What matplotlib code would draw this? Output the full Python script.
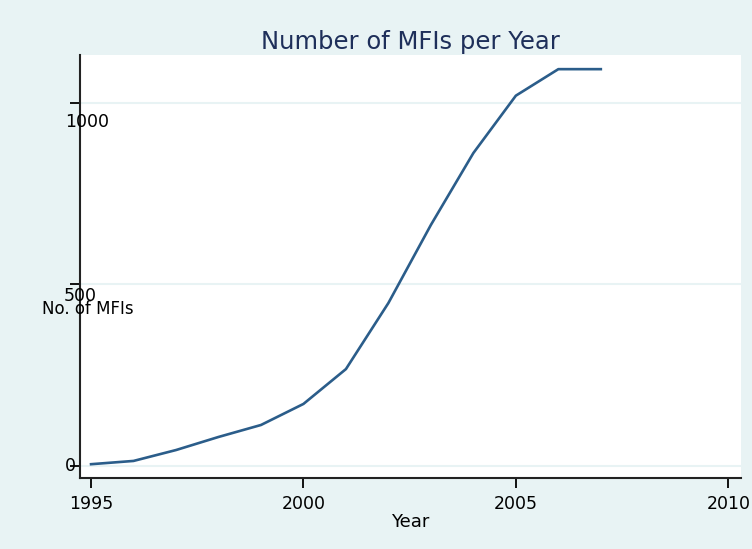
import numpy as np
import matplotlib.pyplot as plt
from matplotlib import transforms

years = [1995, 1996, 1997, 1998, 1999, 2000, 2001, 2002, 2003, 2004, 2005, 2006, 2007]
mfis = [5, 14, 44, 80, 113, 171, 267, 449, 664, 862, 1020, 1093, 1093]
yticks = [0, 500, 1000]
xticks = [1995, 2000, 2005, 2010]

bg = '#e8f3f4'
line_col = '#2b5d8a'

fig = plt.figure(figsize=(7.52, 5.49), dpi=100, facecolor=bg)
ax = fig.add_axes([80 / 752, 1 - 478 / 549, (741 - 80) / 752, (478 - 55) / 549])
ax.set_facecolor('white')

ax.plot(years, mfis, color=line_col, lw=1.9)

ax.set_xlim(1994.74, 2010.3)
ax.set_ylim(-33, 1132)

for v in yticks:
    ax.axhline(v, color=bg, lw=1.5, zorder=0)

ax.set_xticks(xticks)
ax.set_xticklabels([str(x) for x in xticks], fontsize=12.5)
ax.set_yticks(yticks)
ax.set_yticklabels([])
ax.tick_params(axis='x', length=7, width=1.3, pad=5)
ax.tick_params(axis='y', length=7, width=1.3)

for s in ['top', 'right']:
    ax.spines[s].set_visible(False)
for s in ['left', 'bottom']:
    ax.spines[s].set_linewidth(1.5)
    ax.spines[s].set_color('#222222')

# y tick labels drawn as in the original (overlapping the axis)
tr = transforms.blended_transform_factory(ax.transAxes, ax.transData)
off = lambda dx, dy: transforms.offset_copy(tr, fig=fig, x=dx, y=dy, units='dots')
ax.text(0, 1000, '1000', transform=off(7, -19), ha='center', va='center', fontsize=12.5)
ax.text(0, 500, '500', transform=off(0, -12), ha='center', va='center', fontsize=12.5)
ax.text(0, 0, '0', transform=off(-4, 0), ha='right', va='center', fontsize=12.5)
ax.text(0, 500, 'No. of MFIs', transform=off(8, -25), ha='center', va='center', fontsize=12)

ax.set_xlabel('Year', fontsize=13, labelpad=0)
ax.set_title('Number of MFIs per Year', fontsize=17.5, color='#1e2f5a', pad=4)

plt.savefig('out.png', dpi=100, facecolor=bg)
